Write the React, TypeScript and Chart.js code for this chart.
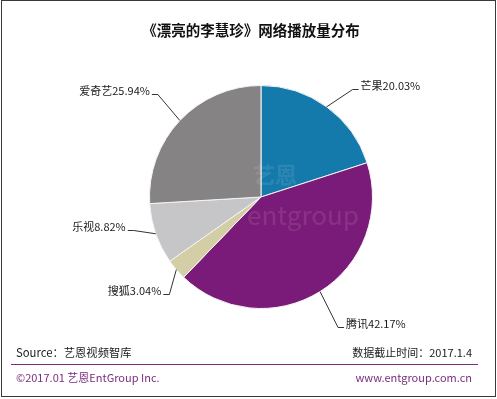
import React, { useEffect, useRef } from 'react';
import { Chart, registerables } from 'chart.js';

Chart.register(...registerables);

const title = '《漂亮的李慧珍》网络播放量分布';
const categories = ['芒果', '腾讯', '搜狐', '乐视', '爱奇艺'];
const shares = [20.03, 42.17, 3.04, 8.82, 25.94];
const sourceText = 'Source：艺恩视频智库';
const dateText = '数据截止时间：2017.1.4';
const copyrightText = '©2017.01 艺恩EntGroup Inc.';
const siteText = 'www.entgroup.com.cn';

const sliceColors = ['#1479ab', '#7b1b79', '#d4cea6', '#c6c5c7', '#858384'];
// leader-line elbow offsets from the slice edge (layout styling)
const labelOffsets: [number, number][] = [[26, -18], [18, 35], [-7, 24], [-22, -4], [-22, -27]];

const CJK = '"Noto Sans CJK SC", "Noto Sans", sans-serif';

const labelPlugin = {
  id: 'leaderLabels',
  afterDatasetsDraw(chart: any) {
    const ctx = chart.ctx as CanvasRenderingContext2D;
    const meta = chart.getDatasetMeta(0);
    // faint watermark
    const first = meta.data[0];
    if (first) {
      ctx.save();
      ctx.fillStyle = 'rgba(255,255,255,0.1)';
      ctx.font = `26px ${CJK}`;
      ctx.textAlign = 'left';
      ctx.textBaseline = 'middle';
      ctx.fillText('entgroup', first.x - 14, first.y + 18);
      ctx.font = `bold 22px ${CJK}`;
      ctx.fillText('艺恩', first.x - 8, first.y - 22);
      ctx.restore();
    }
    ctx.save();
    ctx.strokeStyle = '#333';
    ctx.lineWidth = 1;
    ctx.fillStyle = '#1a1a1a';
    ctx.font = `11px ${CJK}`;
    meta.data.forEach((arc: any, i: number) => {
      const { x, y, outerRadius, startAngle, endAngle } = arc.getProps(['x', 'y', 'outerRadius', 'startAngle', 'endAngle'], true);
      const mid = (startAngle + endAngle) / 2;
      const ex = x + Math.cos(mid) * outerRadius;
      const ey = y + Math.sin(mid) * outerRadius;
      const [dx, dy] = labelOffsets[i];
      const bx = ex + dx;
      const by = Math.round(ey + dy) + 0.5;
      const side = dx >= 0 ? 1 : -1;
      const hx = bx + side * 6;
      ctx.beginPath();
      ctx.moveTo(ex, ey);
      ctx.lineTo(bx, by);
      ctx.lineTo(hx, by);
      ctx.stroke();
      ctx.textAlign = side > 0 ? 'left' : 'right';
      ctx.textBaseline = 'alphabetic';
      ctx.fillText(`${categories[i]}${shares[i].toFixed(2)}%`, hx + side * 2, by + 0.5);
    });
    ctx.restore();
  },
};

export default function App() {
  const ref = useRef<HTMLCanvasElement>(null);
  useEffect(() => {
    document.body.style.margin = '0';
    const canvas = ref.current;
    if (!canvas) return;
    const chart = new Chart(canvas, {
      type: 'pie',
      data: {
        labels: categories,
        datasets: [
          {
            data: shares,
            backgroundColor: sliceColors,
            borderColor: '#f4f4f4',
            borderWidth: 1,
          },
        ],
      },
      options: {
        responsive: false,
        animation: false,
        devicePixelRatio: 1,
        layout: { padding: { left: 149, right: 124, top: 85, bottom: 90 } },
        plugins: {
          legend: { display: false },
          tooltip: { enabled: false },
          title: { display: false },
        },
      },
      plugins: [labelPlugin],
    });
    return () => chart.destroy();
  }, []);

  return (
    <div style={{ position: 'relative', width: 497, height: 399, background: '#fff', overflow: 'hidden' }}>
      <canvas ref={ref} width={497} height={399} style={{ position: 'absolute', left: 0, top: 0 }} />
      <div
        style={{
          position: 'absolute', left: 1, top: 0, width: 493, height: 395,
          border: '1px solid #3a3a3a', pointerEvents: 'none',
        }}
      />
      <div
        style={{
          position: 'absolute', left: 0, top: 19, width: 502, textAlign: 'center',
          font: `bold 14.5px ${CJK}`, color: '#111', lineHeight: '22px',
        }}
      >
        {title}
      </div>
      <div style={{ position: 'absolute', left: 16, top: 343, font: `11.3px ${CJK}`, color: '#1a1a1a', lineHeight: '18px' }}>
        {sourceText}
      </div>
      <div style={{ position: 'absolute', right: 25, top: 343, font: `11px ${CJK}`, color: '#1a1a1a', lineHeight: '18px' }}>
        {dateText}
      </div>
      <div style={{ position: 'absolute', left: 11, top: 364, width: 467, height: 1, background: '#7b2a7c' }} />
      <div style={{ position: 'absolute', left: 16, top: 368, font: `11px ${CJK}`, color: '#7a2d7e', lineHeight: '18px' }}>
        {copyrightText}
      </div>
      <div style={{ position: 'absolute', right: 25, top: 368, font: `11px ${CJK}`, color: '#7a2d7e', lineHeight: '18px' }}>
        {siteText}
      </div>
    </div>
  );
}
